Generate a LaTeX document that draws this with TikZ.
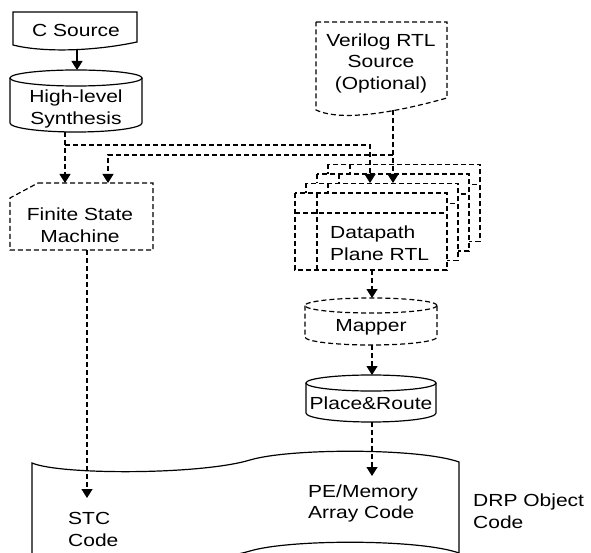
\documentclass[tikz,border=0pt]{standalone}
\usepackage{fontspec}
\setmainfont[FakeStretch=1.2]{Liberation Sans}
\usetikzlibrary{arrows.meta}
\begin{document}
\begin{tikzpicture}[x=1bp,y=-1bp,
  solidline/.style={draw, line width=1.2bp},
  dashline/.style={draw, line width=1.2bp, dash pattern=on 5bp off 3bp},
  conn/.style={line width=1.2bp, -{Triangle[width=11bp,length=9bp]}},
  dconn/.style={conn, dash pattern=on 5bp off 3bp},
  txt/.style={font=\fontsize{17.5bp}{21.5bp}\selectfont, inner sep=0pt, align=center},
  ltxt/.style={txt, align=left, anchor=west}]
\useasboundingbox (0,0) rectangle (591,553);
\clip (0,0) rectangle (591,553);

% C Source (document)
\draw[solidline] (13,12) -- (137,12) -- (137,42) .. controls (90,52) and (40,52) .. (13,45) -- cycle;
\node[txt] (cs) at (76,30) {C Source};

% High-level Synthesis (cylinder)
\draw[solidline] (10,78) -- (10,123) arc[start angle=180, end angle=0, x radius=66, y radius=9] -- (142,78);
\draw[solidline] (76,78) ellipse[x radius=66, y radius=8];
\node[txt] (hls) at (76,109) {High-level\\Synthesis};

% Verilog RTL Source (dashed document)
\draw[dashline] (316,22) -- (447,22) -- (447,98) .. controls (375,118) and (335,119) .. (316,110) -- cycle;
\node[txt] (vrl) at (381,63) {Verilog RTL\\Source\\(Optional)};

% Finite State Machine (card)
\draw[dashline] (38,183) -- (153,183) -- (153,250) -- (10,250) -- (10,198) -- cycle;
\node[txt] (fsm) at (80,225) {Finite State\\Machine};

% Datapath Plane RTL stack
\foreach \k in {3,2,1,0}{
  \begin{scope}[shift={(11*\k,-9.5*\k)}]
    \fill[white] (295,193) rectangle (447,270);
    \draw[dashline] (295,193) rectangle (447,270);
    \draw[dashline] (317,193) -- (317,270);
    \draw[dashline] (295,213) -- (447,213);
  \end{scope}
}
\node[ltxt] (dp) at (330,243) {Datapath\\Plane RTL};

% Mapper (dashed cylinder)
\draw[dashline] (305,305.5) -- (305,337) arc[start angle=180, end angle=0, x radius=66, y radius=8] -- (437,305.5);
\draw[dashline] (371,305.5) ellipse[x radius=66, y radius=7.5];
\node[txt] (map) at (371,327) {Mapper};

% Place&Route (cylinder)
\draw[solidline] (306,383) -- (306,413) arc[start angle=180, end angle=0, x radius=65, y radius=9] -- (436,383);
\draw[solidline] (371,383) ellipse[x radius=65, y radius=8];
\node[txt] (pr) at (371,403) {Place\&Route};

% DRP object code (tape)
\draw[solidline] (32,463) .. controls (60,475) and (200,475) .. (250,460)
  .. controls (290,448) and (420,448) .. (459,462) -- (459,553)
  .. controls (420,539) and (290,539) .. (250,551)
  .. controls (200,566) and (60,566) .. (32,554) -- cycle;
\node[ltxt] (pe) at (308,503.5) {PE/Memory\\Array Code};
\node[ltxt] (stc) at (68,529.5) {STC\\Code};
\node[ltxt] (drp) at (473,511) {DRP Object\\Code};

% connector end points
\coordinate (csB) at (77,49.5);
\coordinate (hlsT) at (77,70);
\coordinate (hlsB) at (65,131.9);
\coordinate (j1) at (65,145);
\coordinate (j1r) at (370,145);
\coordinate (fsmT1) at (65,183);
\coordinate (fsmT2) at (108,183);
\coordinate (vB) at (393,110.5);
\coordinate (j2) at (393,155);
\coordinate (j2l) at (108,155);
\coordinate (dpT1) at (370,183);
\coordinate (dpT2) at (393,183);
\coordinate (dpB) at (372,270);
\coordinate (mapT) at (372,298);
\coordinate (mapB) at (372,345);
\coordinate (prT) at (372,375);
\coordinate (prB) at (372,422);
\coordinate (peT) at (372,476);
\coordinate (fsmB) at (87,250);
\coordinate (stcT) at (87,498);

\draw[conn] (csB) -- (hlsT);
\draw[dconn] (hlsB) -- (fsmT1);
\draw[dconn] (j1) -- (j1r) -- (dpT1);
\draw[dconn] (vB) -- (dpT2);
\draw[dconn] (j2) -- (j2l) -- (fsmT2);
\draw[dconn] (dpB) -- (mapT);
\draw[dconn] (mapB) -- (prT);
\draw[dconn] (prB) -- (peT);
\draw[dconn] (fsmB) -- (stcT);
\end{tikzpicture}
\end{document}
